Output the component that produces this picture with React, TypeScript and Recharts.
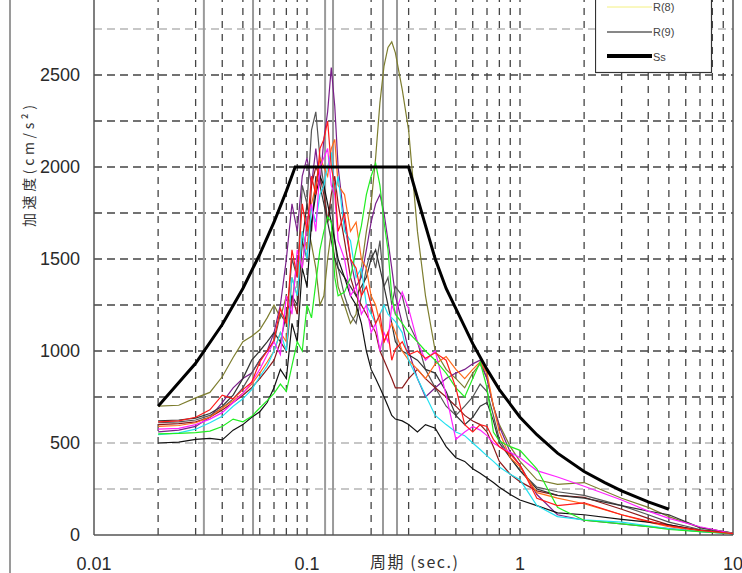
import React from "react";
import { LineChart, Line, XAxis, YAxis, ReferenceLine } from "recharts";

// 周期 (sec.)
const periods = [
  0.02, 0.025, 0.03, 0.035, 0.04, 0.045, 0.05, 0.055, 0.06, 0.065,
  0.07, 0.075, 0.08, 0.085, 0.09, 0.095, 0.1, 0.105, 0.11, 0.115,
  0.12, 0.125, 0.13, 0.135, 0.14, 0.15, 0.16, 0.17, 0.18, 0.19,
  0.2, 0.21, 0.22, 0.23, 0.24, 0.25, 0.26, 0.28, 0.3, 0.33,
  0.36, 0.4, 0.45, 0.5, 0.55, 0.6, 0.65, 0.7, 0.75, 0.8,
  0.9, 1.0, 1.2, 1.5, 2, 3, 4, 5, 7, 10,
];

// 加速度 (cm/s2), one array per record
const olive = [
  700, 705, 745, 775, 860, 965, 1050, 1080, 1115, 1180,
  1250, 1180, 1300, 1250, 1500, 1450, 1700, 1580, 1450, 1250,
  1300, 1500, 1650, 1500, 1350, 1250, 1150, 1200, 1450, 1650,
  1800, 2050, 2350, 2550, 2650, 2680, 2620, 2420, 2200, 1650,
  1300, 1000, 900, 850, 800, 880, 930, 850, 700, 600,
  480, 400, 300, 275, 285, 200, 150, 100, 40, 10,
];
const purple = [
  560, 570, 590, 640, 720, 800, 850, 880, 950, 1000,
  1100, 1250, 1500, 1800, 1650, 1950, 2050, 1900, 2100, 1900,
  2150, 2300, 2540, 2330, 2000, 1700, 1500, 1350, 1400, 1550,
  1700, 1800, 1850, 1750, 1600, 1450, 1300, 1150, 1000, 850,
  750, 800, 850, 880, 900, 930, 950, 850, 700, 590,
  450, 380, 220, 110, 80, 60, 45, 35, 20, 8,
];
const gray = [
  610, 615, 625, 650, 690, 740, 800, 880, 950, 1000,
  1050, 1200, 1150, 1500, 1400, 1900, 1800, 2200, 2300, 2050,
  1900, 1700, 1800, 1600, 1450, 1300, 1200, 1150, 1300, 1450,
  1550, 1450, 1600, 1350, 1400, 1250, 1350, 1300, 1150, 1050,
  900, 800, 700, 650, 700, 750, 820, 780, 650, 520,
  420, 350, 260, 235, 215, 160, 110, 70, 30, 10,
];
const red = [
  615, 620, 640, 680, 760, 740, 790, 830, 940, 1000,
  1060, 1230, 1150, 1550, 1400, 1800, 1650, 1950, 1850, 2100,
  2150, 2250, 2000, 1900, 1650, 1750, 1500, 1450, 1300, 1350,
  1250, 1150, 1200, 1050, 1100, 950, 1010, 1050, 980, 1000,
  960, 990, 950, 800, 600, 560, 600, 590, 520, 480,
  440, 380, 200, 160, 175, 110, 75, 50, 25, 8,
];
const orange = [
  590, 595, 610, 640, 690, 730, 770, 820, 880, 940,
  1000, 1100, 1050, 1400, 1300, 1650, 1550, 1800, 1900, 2050,
  2000, 1950, 2100, 2150, 1900, 1850, 1650, 1700, 1500, 1450,
  1300, 1250, 1150, 1050, 1100, 1150, 1100, 1000, 950, 900,
  850, 930, 970, 900, 850, 900, 940, 880, 700, 560,
  420, 370, 230, 200, 170, 110, 70, 45, 22, 9,
];
const magenta = [
  575, 580, 600, 630, 665, 720, 770, 830, 900, 980,
  1050, 980, 1300, 1200, 1550, 1450, 1700, 1800, 1650, 2000,
  2050, 2100, 1900, 1850, 1600, 1500, 1300, 1350, 1200, 1250,
  1100, 1150, 1000, 1100, 1050, 1250, 1200, 1320, 1230, 1050,
  950, 1000, 760, 520, 560, 590, 570, 540, 500, 480,
  450, 420, 350, 315, 265, 190, 130, 90, 45, 8,
];
const cyan = [
  545, 555, 575, 610, 645, 700, 740, 790, 860, 920,
  1000, 1100, 1000, 1400, 1300, 1650, 1500, 1780, 1700, 1850,
  1900, 2000, 2080, 1850, 1950, 1650, 1600, 1400, 1450, 1250,
  1200, 1150, 1200, 1250, 1200, 1180, 1160, 1100, 950, 850,
  760, 650, 600, 560, 540, 500, 465, 430, 400, 370,
  330, 300, 160, 100, 82, 70, 50, 35, 18, 7,
];
const green = [
  550, 552, 556, 565, 590, 630, 615, 645, 690, 730,
  770, 820, 780, 920, 1050, 1000, 1250, 1180, 1370, 1550,
  1650, 1730, 1700, 1400, 1300, 1320, 1400, 1550, 1680, 1850,
  1950, 2020, 1900, 1700, 1550, 1300, 1200, 1150, 1100, 1050,
  1000, 950, 880, 800, 750, 850, 940, 800, 560, 510,
  480, 460, 360, 150, 80, 60, 45, 30, 18, 8,
];
const black = [
  500, 505, 520, 525, 517, 570, 600, 640, 670, 720,
  800, 900, 850, 1150, 1050, 1450, 1350, 1700, 1850, 1950,
  1900, 1800, 1700, 1600, 1500, 1400, 1300, 1250, 1150, 1000,
  900, 850, 800, 750, 700, 650, 630, 620, 600, 560,
  600, 580, 480, 420, 400, 360, 335, 310, 285, 260,
  220, 190, 160, 120, 110, 85, 70, 55, 25, 6,
];
const brown = [
  600, 605, 615, 640, 680, 720, 760, 800, 850, 900,
  950, 1050, 1000, 1300, 1200, 1600, 1500, 1900, 2000, 1950,
  1850, 1700, 1850, 1950, 1800, 1600, 1400, 1300, 1250, 1200,
  1150, 1100, 1000, 950, 900, 850, 800, 800, 850, 900,
  850, 800, 750, 700, 650, 620, 600, 560, 480, 400,
  330, 290, 240, 215, 205, 140, 90, 55, 25, 8,
];
const dark = [
  620, 625, 635, 660, 700, 760, 850, 950, 1000, 1050,
  1100, 1050, 1200, 1300, 1250, 1600, 1800, 1650, 1950, 1900,
  1800, 1700, 1600, 1500, 1450, 1400, 1350, 1300, 1350, 1400,
  1500, 1550, 1450, 1350, 1250, 1150, 1050, 1000, 980, 950,
  900, 880, 780, 650, 600, 640, 700, 720, 620, 500,
  420, 350, 250, 215, 200, 160, 130, 110, 40, 10,
];

// design spectrum Ss
const ssPeriods = [
  0.02, 0.03, 0.04, 0.05, 0.06, 0.07, 0.08, 0.088, 0.3, 0.35, 0.4, 0.45,
  0.5, 0.6, 0.7, 0.8, 1.0, 1.2, 1.5, 2, 2.5, 3, 4, 5,
];
const ssValues = [
  700, 933, 1144, 1340, 1525, 1700, 1869, 2000, 2000, 1730, 1500, 1340,
  1230, 1040, 900, 790, 640, 545, 445, 345, 285, 240, 180, 140,
];

const xTicks = [0.01, 0.1, 1, 10];
const yTicks = [0, 500, 1000, 1500, 2000, 2500];
const gridPeriods = [
  0.02, 0.03, 0.04, 0.05, 0.06, 0.07, 0.08, 0.09, 0.1,
  0.2, 0.3, 0.4, 0.5, 0.6, 0.7, 0.8, 0.9, 1,
  2, 3, 4, 5, 6, 7, 8, 9,
];
const gridValues = [250, 500, 750, 1000, 1250, 1500, 1750, 2000, 2250, 2500, 2750];
const lightGridValues = [250, 500, 2750];
const markerPeriods = [0.0328, 0.0558, 0.1216, 0.1325, 0.2274, 0.2646];

const series = [
  { key: "olive", values: olive, color: "#7d7d2e" },
  { key: "purple", values: purple, color: "#7a1f8a" },
  { key: "gray", values: gray, color: "#555555" },
  { key: "brown", values: brown, color: "#8b1a1a" },
  { key: "dark", values: dark, color: "#333333" },
  { key: "orange", values: orange, color: "#ff6a1a" },
  { key: "black", values: black, color: "#111111" },
  { key: "cyan", values: cyan, color: "#22e0f0" },
  { key: "magenta", values: magenta, color: "#ff22ff" },
  { key: "green", values: green, color: "#22ee22" },
  { key: "red", values: red, color: "#ff1a1a" },
];

const tickFont = "'Liberation Sans', Arial, sans-serif";
const jpFont = "'Noto Sans CJK JP', 'Liberation Sans', sans-serif";

const renderYTitle = () => (
  <text
    x={28}
    y={196}
    transform="rotate(-90, 28, 196)"
    textAnchor="middle"
    dominantBaseline="central"
    fontSize={14}
    fill="#333"
    fontFamily={jpFont}
    textLength={122}
    lengthAdjust="spacing"
  >
    加速度(cm/s²)
  </text>
);

const renderXTitle = () => (
  <text
    x={414}
    y={598}
    textAnchor="middle"
    fontSize={16}
    fill="#333"
    fontFamily={jpFont}
    textLength={88}
    lengthAdjust="spacing"
  >
    周期 (sec.)
  </text>
);

export default function App() {
  const rows = periods.map((p, i) => {
    const row: Record<string, number> = { period: p };
    series.forEach((s) => {
      row[s.key] = s.values[i];
    });
    return row;
  });
  const ssData = ssPeriods.map((p, i) => ({ period: p, ss: ssValues[i] }));

  return (
    <div
      style={{
        position: "fixed",
        left: 0,
        top: 0,
        width: 742,
        height: 573,
        overflow: "hidden",
        background: "#fff",
      }}
    >
      <div style={{ position: "absolute", left: 9, top: 0, width: 2, height: 573, background: "#9a9a9a" }} />
      <div style={{ position: "absolute", left: 0, top: -30 }}>
        <LineChart width={742} height={613} data={rows} margin={{ top: 13, right: 9, bottom: 8, left: 0 }}>
          <XAxis
            dataKey="period"
            type="number"
            scale="log"
            domain={[0.01, 10]}
            allowDataOverflow
            ticks={xTicks}
            interval={0}
            tickFormatter={(v: number) => String(v)}
            tickLine={false}
            tickSize={0}
            tickMargin={22}
            height={40}
            axisLine={{ stroke: "#555", strokeWidth: 1.5 }}
            tick={{ fontSize: 18, fill: "#2a2a2a", fontFamily: tickFont }}
            label={renderXTitle}
          />
          <YAxis
            type="number"
            domain={[0, 3000]}
            allowDataOverflow
            ticks={yTicks}
            interval={0}
            width={94}
            tickLine={false}
            tickSize={0}
            tickMargin={14}
            axisLine={{ stroke: "#555", strokeWidth: 1.5 }}
            tick={{ fontSize: 18, fill: "#2a2a2a", fontFamily: tickFont }}
            label={renderYTitle}
          />
          {gridValues.map((v) => (
            <ReferenceLine
              key={"h" + v}
              y={v}
              stroke={lightGridValues.includes(v) ? "#b5b5b5" : "#444"}
              strokeWidth={1.3}
              strokeDasharray="8 5"
            />
          ))}
          {gridPeriods.map((p) => (
            <ReferenceLine key={"v" + p} x={p} stroke="#444" strokeWidth={1.3} strokeDasharray="7 6" />
          ))}
          {markerPeriods.map((p) => (
            <ReferenceLine key={"m" + p} x={p} stroke="#9a9a9a" strokeWidth={2} />
          ))}
          <ReferenceLine x={10} stroke="#555" strokeWidth={1.5} />
          {series.map((s) => (
            <Line
              key={s.key}
              dataKey={s.key}
              type="linear"
              stroke={s.color}
              strokeWidth={1.2}
              dot={false}
              isAnimationActive={false}
            />
          ))}
          <Line
            data={ssData}
            dataKey="ss"
            type="linear"
            stroke="#000"
            strokeWidth={3}
            dot={false}
            isAnimationActive={false}
          />
        </LineChart>
      </div>
      <svg style={{ position: "absolute", left: 595, top: 0 }} width={118} height={76}>
        <rect x={0.5} y={-20} width={116} height={92.5} fill="#fff" stroke="#333" strokeWidth={1.2} />
        <line x1={12} x2={57} y1={7} y2={7} stroke="#f4f080" strokeWidth={1} />
        <text x={58} y={7} dominantBaseline="central" fontSize={11} fill="#444" fontFamily={tickFont}>
          R(8)
        </text>
        <line x1={12} x2={57} y1={32} y2={32} stroke="#111" strokeWidth={1} />
        <text x={58} y={32} dominantBaseline="central" fontSize={11} fill="#444" fontFamily={tickFont}>
          R(9)
        </text>
        <line x1={12} x2={57} y1={56} y2={56} stroke="#000" strokeWidth={4} />
        <text x={58} y={57} dominantBaseline="central" fontSize={11} fill="#444" fontFamily={tickFont}>
          Ss
        </text>
      </svg>
    </div>
  );
}
